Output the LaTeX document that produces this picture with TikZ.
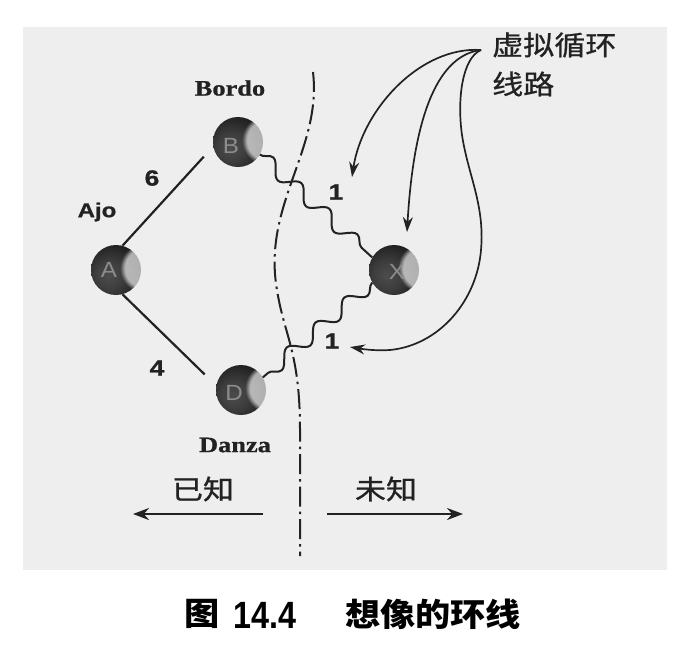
\documentclass[tikz,border=0pt]{standalone}
\usepackage{fontspec}
\setmainfont{Liberation Serif}
\newfontfamily\cjk[FakeStretch=1.15,FakeBold=0.8]{Noto Sans CJK SC}
\newfontfamily\cjkcap[FakeStretch=1.1]{Noto Sans CJK SC}
\newfontfamily\sfb[FakeStretch=1.2,FakeBold=0.8]{Liberation Sans}
\newfontfamily\sfl[FakeStretch=1.1]{Liberation Sans}
\newfontfamily\rmb[FakeStretch=1.2,FakeBold=0.8]{Liberation Serif}
\newfontfamily\capnum[FakeStretch=0.85]{Liberation Sans}
\usetikzlibrary{arrows.meta,decorations.pathmorphing,fadings}
\definecolor{bg}{HTML}{EEEEEE}
\definecolor{ink}{HTML}{222222}
\pgfdeclareradialshading{sphere}{\pgfpoint{-8bp}{-6bp}}{color(0bp)=(black!70); color(14bp)=(black!76); color(34bp)=(black!90); color(50bp)=(black!93); color(100bp)=(black!93)}
\begin{document}
\begin{tikzpicture}[x=1pt,y=-1pt,
  ball/.style={circle, minimum size=50pt, inner sep=0pt, shade, shading=sphere},
  lettr/.style={font=\sfl\fontsize{22}{22}\selectfont, text=black!45, inner sep=0pt},
  num/.style={font=\sfb\bfseries\fontsize{22}{22}\selectfont, text=ink, inner sep=0pt},
  sflab/.style={font=\sfb\bfseries\fontsize{20}{20}\selectfont, text=ink, inner sep=0pt},
  rmlab/.style={font=\rmb\bfseries\fontsize{22}{22}\selectfont, text=ink, inner sep=0pt},
  cjklab/.style={font=\cjk\fontsize{27}{27}\selectfont, text=ink, inner sep=0pt},
  captxt/.style={font=\cjkcap\bfseries\fontsize{32}{32}\selectfont, text=black, inner sep=0pt},
  capnum/.style={font=\capnum\bfseries\fontsize{38}{38}\selectfont, text=black, inner sep=0pt},
  edge/.style={ink, line width=2.2pt},
  wavy/.style={ink, line width=2pt, decorate, decoration={snake, segment length=38pt, amplitude=7pt}},
  dashdot/.style={ink, line width=2pt, dash pattern=on 20pt off 5pt on 2.5pt off 5pt},
  carrow/.style={ink, line width=1.7pt, -{Stealth[length=15pt,width=10pt]}},
  barrow/.style={ink, line width=2.5pt, -{Stealth[length=16pt,width=12pt]}},
  glare/.style={fill=bg, fill opacity=0.7, path fading=circle with fuzzy edge 20 percent}
]
\useasboundingbox (0,0) rectangle (698,646);
\fill[bg] (23,27) rectangle (667,570);

% nodes
\node[ball] (A) at (116,270) {};
\node[ball] (B) at (238,142) {};
\node[ball] (D) at (241,390) {};
\node[ball] (X) at (394,270) {};
\foreach \n in {A,B,D,X}{
  \begin{scope}
    \clip (\n.center) circle (25.5pt);
    \fill[glare] ([xshift=29pt,yshift=2pt]\n.center) circle (25pt);
  \end{scope}
}
\node[lettr] (Al) at ([xshift=-7pt]A.center) {A};
\node[lettr] (Bl) at ([xshift=-7pt,yshift=-4pt]B.center) {B};
\node[lettr] (Dl) at ([xshift=-7pt,yshift=-3pt]D.center) {D};
\node[lettr] (Xl) at ([xshift=3pt,yshift=-2pt]X.center) {X};

% labels
\node[sflab] (ajo) at (97,212) {Ajo};
\node[rmlab] (bordo) at (230,88) {Bordo};
\node[rmlab] (danza) at (235,445) {Danza};
\node[num] (l6) at (152,178) {6};
\node[num] (l4) at (157,368) {4};
\node[num] (l1a) at (336,192) {1};
\node[num] (l1b) at (332,341) {1};

% edges
\draw[edge, shorten >=14pt] (A.75) -- (B.190);
\draw[edge, shorten >=16pt] (A.-75) -- (D.170);
\draw[wavy] (B.-30) -- (X.150);
\draw[wavy] (X.-150) -- (D.30);

% boundary
\draw[dashdot] (313,72) .. controls (322,150) and (262,205) .. (277,290)
  .. controls (284,335) and (300,352) .. (300,430) -- (300,556);

% virtual loop annotation
\node[cjklab, anchor=west] (v1) at (492,45) {虚拟循环};
\node[cjklab, anchor=west] (v2) at (492,84) {线路};
\coordinate (src) at (481,50);
\coordinate (t1) at (352,177);
\coordinate (t2) at (407,232);
\coordinate (t3) at (350,347);
\draw[carrow] (src) .. controls (420,46) and (362,110) .. (t1);
\draw[carrow] (src) .. controls (440,55) and (414,110) .. (t2);
\draw[carrow] (src) .. controls (462,58) and (457,100) .. (462,135)
  .. controls (468,175) and (485,205) .. (481,250)
  .. controls (477,300) and (440,345) .. (390,350)
  .. controls (375,351) and (362,349) .. (t3);

% known / unknown
\coordinate (kl) at (263,514);
\coordinate (kt) at (133,514);
\coordinate (ul) at (327,514);
\coordinate (ut) at (463,514);
\draw[barrow] (kl) -- (kt);
\draw[barrow] (ul) -- (ut);
\node[cjklab] (known) at (203,489) {已知};
\node[cjklab] (unknown) at (386,489) {未知};

% caption
\node[captxt] (fig) at (202,614) {图};
\node[capnum] (fignum) at (265,615) {14.4};
\node[captxt] (title) at (433,614) {想像的环线};
\end{tikzpicture}
\end{document}
